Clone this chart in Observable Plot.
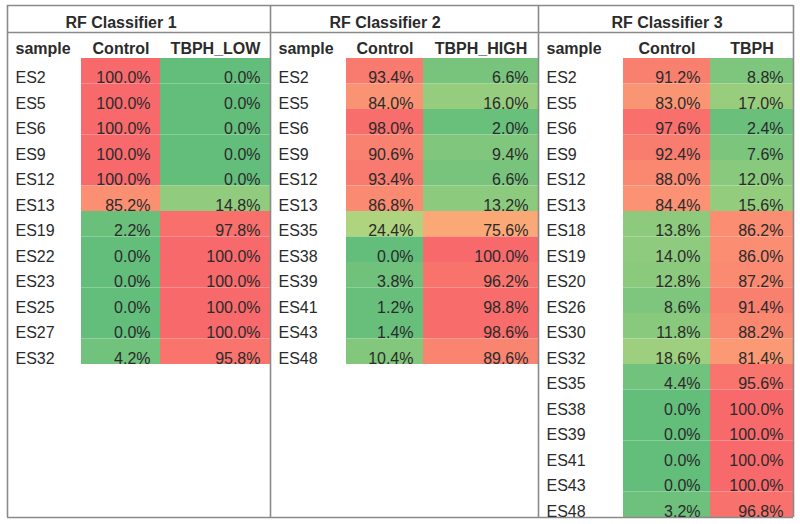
<!DOCTYPE html>
<html>
<head>
<meta charset="utf-8">
<script src="https://cdn.jsdelivr.net/npm/d3@7"></script>
<script src="https://cdn.jsdelivr.net/npm/@observablehq/plot@0.6"></script>
<style>
  html, body { margin: 0; padding: 0; background: #fff; }
  #chart { width: 800px; height: 524px; }
</style>
</head>
<body>
<div id="chart"></div>
<script>
// ---- data ----
const classifiers = ["RF Classifier 1", "RF Classifier 2", "RF Classifier 3"];
const groupLabels = ["TBPH_LOW", "TBPH_HIGH", "TBPH"];
const controlLabel = "Control";
const sampleLabel = "sample";

const samples1 = ["ES2","ES5","ES6","ES9","ES12","ES13","ES19","ES22","ES23","ES25","ES27","ES32"];
const control1 = [100.0,100.0,100.0,100.0,100.0,85.2,2.2,0.0,0.0,0.0,0.0,4.2];
const tbphLow  = [0.0,0.0,0.0,0.0,0.0,14.8,97.8,100.0,100.0,100.0,100.0,95.8];

const samples2 = ["ES2","ES5","ES6","ES9","ES12","ES13","ES35","ES38","ES39","ES41","ES43","ES48"];
const control2 = [93.4,84.0,98.0,90.6,93.4,86.8,24.4,0.0,3.8,1.2,1.4,10.4];
const tbphHigh = [6.6,16.0,2.0,9.4,6.6,13.2,75.6,100.0,96.2,98.8,98.6,89.6];

const samples3 = ["ES2","ES5","ES6","ES9","ES12","ES13","ES18","ES19","ES20","ES26","ES30","ES32","ES35","ES38","ES39","ES41","ES43","ES48"];
const control3 = [91.2,83.0,97.6,92.4,88.0,84.4,13.8,14.0,12.8,8.6,11.8,18.6,4.4,0.0,0.0,0.0,0.0,3.2];
const tbph3    = [8.8,17.0,2.4,7.6,12.0,15.6,86.2,86.0,87.2,91.4,88.2,81.4,95.6,100.0,100.0,100.0,100.0,96.8];

// ---- build tables ----
const panels = [
  {samples: samples1, control: control1, group: tbphLow},
  {samples: samples2, control: control2, group: tbphHigh},
  {samples: samples3, control: control3, group: tbph3}
];
const cells = [], names = [], titles = [], headers = [];
panels.forEach((p, pi) => {
  titles.push({col: pi * 3 + 1.5, label: classifiers[pi]});
  headers.push({col: pi * 3, label: sampleLabel, anchor: "start"});
  headers.push({col: pi * 3 + 1.5, label: controlLabel, anchor: "middle"});
  headers.push({col: pi * 3 + 2.5, label: groupLabels[pi], anchor: "middle"});
  p.samples.forEach((s, i) => {
    names.push({col: pi * 3, row: i, label: s});
    cells.push({col: pi * 3 + 1, row: i, value: p.control[i]});
    cells.push({col: pi * 3 + 2, row: i, value: p.group[i]});
  });
});
const maxRows = d3.max(panels, p => p.samples.length);
const nCols = panels.length * 3;

// ---- layout (scale ranges only) ----
const colEdges = [7, 81, 160, 270, 346, 423, 538, 623, 710, 793];
const rowEdges = {domain: [-2, -1, 0, maxRows], range: [5, 32, 58, 517]};
const font = "'Liberation Sans', Arial, Helvetica, sans-serif";
const lineColor = "#8a8a8a";
const textColor = "#2b2b2b";

const chart = Plot.plot({
  width: 800,
  height: 524,
  margin: 0,
  style: {fontFamily: font, fontSize: "16px", background: "#fff", color: textColor},
  x: {type: "linear", domain: d3.range(nCols + 1), range: colEdges, axis: null},
  y: {type: "linear", domain: rowEdges.domain, range: rowEdges.range, axis: null},
  color: {type: "linear", domain: [0, 50, 100], range: ["#63BE7B", "#FFEB84", "#F8696B"], interpolate: "rgb"},
  marks: [
    Plot.rect(cells, {
      x1: "col", x2: d => d.col + 1,
      y1: "row", y2: d => d.row + 1,
      fill: "value", inset: 0
    }),
    Plot.ruleX([0, 3, 6, 9], {y1: -2, y2: maxRows, stroke: lineColor, strokeWidth: 1.6}),
    Plot.ruleY([-2, -1, maxRows], {x1: 0, x2: nCols, stroke: lineColor, strokeWidth: 1.6}),
    Plot.text(titles, {
      x: "col", y: () => -1.5, text: "label", dy: 4,
      fontWeight: "bold", fontSize: 16, fill: textColor, textAnchor: "middle"
    }),
    Plot.text(headers.filter(d => d.anchor === "start"), {
      x: "col", y: () => -0.5, text: "label", dx: 8, dy: 3,
      fontWeight: "bold", fontSize: 16, fill: textColor, textAnchor: "start"
    }),
    Plot.text(headers.filter(d => d.anchor === "middle"), {
      x: "col", y: () => -0.5, text: "label", dy: 3,
      fontWeight: "bold", fontSize: 16, fill: textColor, textAnchor: "middle"
    }),
    Plot.text(names, {
      x: "col", y: d => d.row + 0.5, text: "label", dx: 8, dy: 7,
      fontSize: 16, fill: textColor, textAnchor: "start"
    }),
    Plot.text(cells, {
      x: d => d.col + 1, y: d => d.row + 0.5, text: d => d.value.toFixed(1) + "%",
      dx: -10, dy: 7, fontSize: 16, fill: textColor, textAnchor: "end"
    })
  ]
});
document.getElementById("chart").appendChild(chart);
</script>
</body>
</html>
